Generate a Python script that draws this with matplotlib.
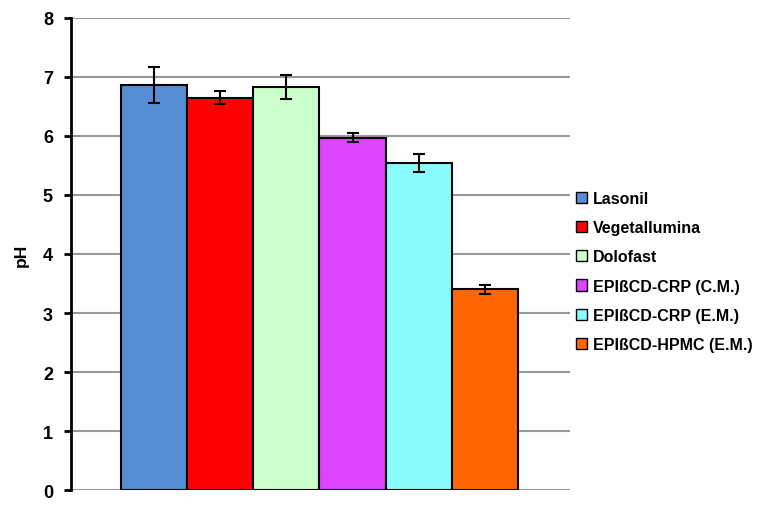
import matplotlib.pyplot as plt
from matplotlib.patches import Patch

plt.rcParams['font.family'] = ['Liberation Sans', 'DejaVu Sans']
plt.rcParams['font.weight'] = 'bold'

# Formulations and measured pH (mean +/- sd)
labels = ['Lasonil', 'Vegetallumina', 'Dolofast', 'EPIßCD-CRP (C.M.)',
          'EPIßCD-CRP (E.M.)', 'EPIßCD-HPMC (E.M.)']
ph = [6.86, 6.65, 6.83, 5.97, 5.54, 3.40]
sd = [0.30, 0.11, 0.20, 0.08, 0.15, 0.08]
colors = ['#558ed5', '#ff0000', '#ccffcc', '#dd44ff', '#88fbfc', '#ff6600']

fig = plt.figure(figsize=(7.63, 5.10), dpi=100)
ax = fig.add_axes([0.093, 0.037, 0.654, 0.926])

x = list(range(len(ph)))
ax.bar(x, ph, width=1.0, color=colors, edgecolor='black', linewidth=1.5, zorder=3)
ax.errorbar(x, ph, yerr=sd, fmt='none', ecolor='black', elinewidth=1.5,
            capsize=4, capthick=1.5, zorder=4)

ax.set_xlim(-1.26, 6.29)
ax.set_ylim(0, 8)
ax.set_yticks(range(0, 9))
ax.yaxis.grid(True, color='#999999', linewidth=1.5, zorder=0)
ax.set_axisbelow(True)
ax.set_xticks([])
for s in ['top', 'right', 'bottom']:
    ax.spines[s].set_visible(False)
ax.spines['left'].set_linewidth(2)
ax.tick_params(axis='y', direction='out', length=5, width=2, labelsize=13, pad=8)
ax.set_ylabel('pH', fontsize=12.5, fontweight='bold', labelpad=10)

handles = [Patch(facecolor=c, edgecolor='black', linewidth=1) for c in colors]
fig.legend(handles, labels, loc='upper left', bbox_to_anchor=(0.746, 0.636),
           frameon=False, handlelength=0.7, handleheight=0.7,
           handletextpad=0.4, labelspacing=0.89, borderaxespad=0,
           prop={'weight': 'bold', 'size': 11.5})

fig.savefig('out.png', dpi=100)
